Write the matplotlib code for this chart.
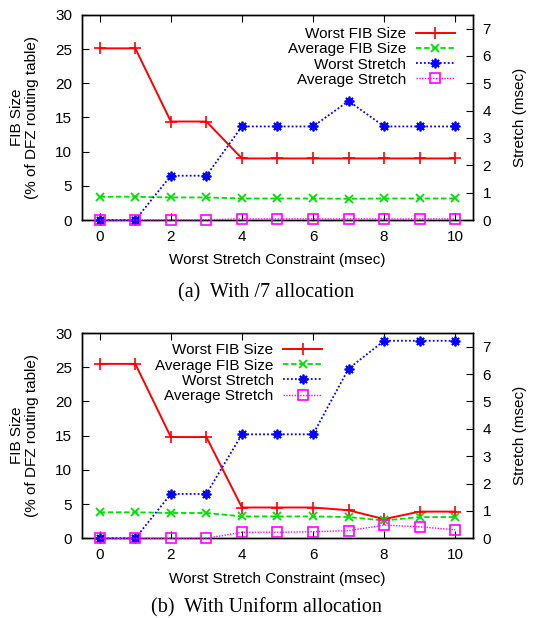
import matplotlib
matplotlib.use("Agg")
import matplotlib.pyplot as plt

plt.rcParams['font.family'] = ['Liberation Sans', 'DejaVu Sans']

# x: worst stretch constraint (msec)
constraint = [0, 1, 2, 3, 4, 5, 6, 7, 8, 9, 10]

# (a) /7 allocation
a_worst_fib = [25.1, 25.1, 14.4, 14.4, 9.0, 9.0, 9.0, 9.0, 9.0, 9.0, 9.0]
a_avg_fib = [3.4, 3.4, 3.3, 3.3, 3.15, 3.15, 3.15, 3.1, 3.15, 3.15, 3.15]
a_worst_stretch = [0, 0, 1.62, 1.62, 3.42, 3.42, 3.42, 4.35, 3.42, 3.42, 3.42]
a_avg_stretch = [0, 0, 0.01, 0.01, 0.04, 0.04, 0.04, 0.04, 0.04, 0.04, 0.04]

# (b) uniform allocation
b_worst_fib = [25.5, 25.5, 14.8, 14.8, 4.5, 4.5, 4.5, 4.1, 2.8, 3.9, 3.9]
b_avg_fib = [3.8, 3.8, 3.7, 3.7, 3.2, 3.2, 3.2, 3.1, 2.6, 3.1, 3.1]
b_worst_stretch = [0, 0, 1.62, 1.62, 3.8, 3.8, 3.8, 6.2, 7.22, 7.22, 7.22]
b_avg_stretch = [0, 0, 0, 0, 0.22, 0.22, 0.24, 0.28, 0.48, 0.42, 0.31]

labels = ["Worst FIB Size", "Average FIB Size", "Worst Stretch", "Average Stretch"]
captions = ["(a)  With /7 allocation", "(b)  With Uniform allocation"]

RED = "#ff0000"
GREEN = "#00e000"
BLUE = "#0000ff"
MAG = "#ff00ff"
ASTER = (8, 2, 0)


def draw_panel(fig, rect, worst_fib, avg_fib, worst_st, avg_st, leg_anchor, caption, cap_y):
    ax = fig.add_axes(rect)
    ax2 = ax.twinx()
    l1, = ax.plot(constraint, worst_fib, color=RED, lw=1.4, ls='-', marker='+',
                  ms=8, mew=1.2, clip_on=False, zorder=3)
    l2, = ax.plot(constraint, avg_fib, color=GREEN, lw=1.3, ls=(0, (3, 1.5)), marker='x',
                  ms=6, mew=1.3, clip_on=False, zorder=3)
    l3, = ax2.plot(constraint, worst_st, color=BLUE, lw=1.3, ls=(0, (1, 1.2)), marker=ASTER,
                   ms=7, mew=1.3, clip_on=False, zorder=3)
    l4, = ax2.plot(constraint, avg_st, color=MAG, lw=1.0, ls=(0, (1, 1)), marker='s',
                   ms=6.5, mew=1.2, mfc='none', clip_on=False, zorder=3)

    ax.set_xlim(-0.5, 10.5)
    ax.set_ylim(0, 30)
    ax2.set_ylim(0, 7.5)
    ax.set_xticks(range(0, 11, 2))
    ax.set_yticks(range(0, 31, 5))
    ax2.set_yticks(range(0, 8))
    ax.tick_params(direction='in', top=True, right=False, labelsize=11, length=5, pad=7)
    ax2.tick_params(direction='in', labelsize=11, length=5, pad=7)
    for a in (ax, ax2):
        for s in a.spines.values():
            s.set_linewidth(1.0)

    ax.set_xlabel("Worst Stretch Constraint (msec)", fontsize=11, labelpad=7)
    ax.set_ylabel("FIB Size\n(% of DFZ routing table)", fontsize=11, labelpad=12,
                  linespacing=1.1)
    ax2.set_ylabel("Stretch (msec)", fontsize=11, labelpad=16)

    ax2.legend([l1, l2, l3, l4], labels, loc='upper right', bbox_to_anchor=leg_anchor,
               frameon=False, markerfirst=False, fontsize=11, handlelength=2.6,
               handletextpad=0.6, labelspacing=0.08, borderpad=0, borderaxespad=0)

    fig.text(0.49, cap_y, caption, ha='center', va='center', fontsize=14.5,
             family=['Liberation Serif', 'DejaVu Serif'])


fig = plt.figure(figsize=(5.43, 6.18), dpi=100)
draw_panel(fig, [0.151, 0.644, 0.720, 0.332], a_worst_fib, a_avg_fib, a_worst_stretch,
           a_avg_stretch, (0.955, 0.94), captions[0], 1 - 293 / 618)
draw_panel(fig, [0.151, 0.129, 0.720, 0.332], b_worst_fib, b_avg_fib, b_worst_stretch,
           b_avg_stretch, (0.615, 0.95), captions[1], 1 - 608 / 618)

fig.savefig("out.png", dpi=100)
